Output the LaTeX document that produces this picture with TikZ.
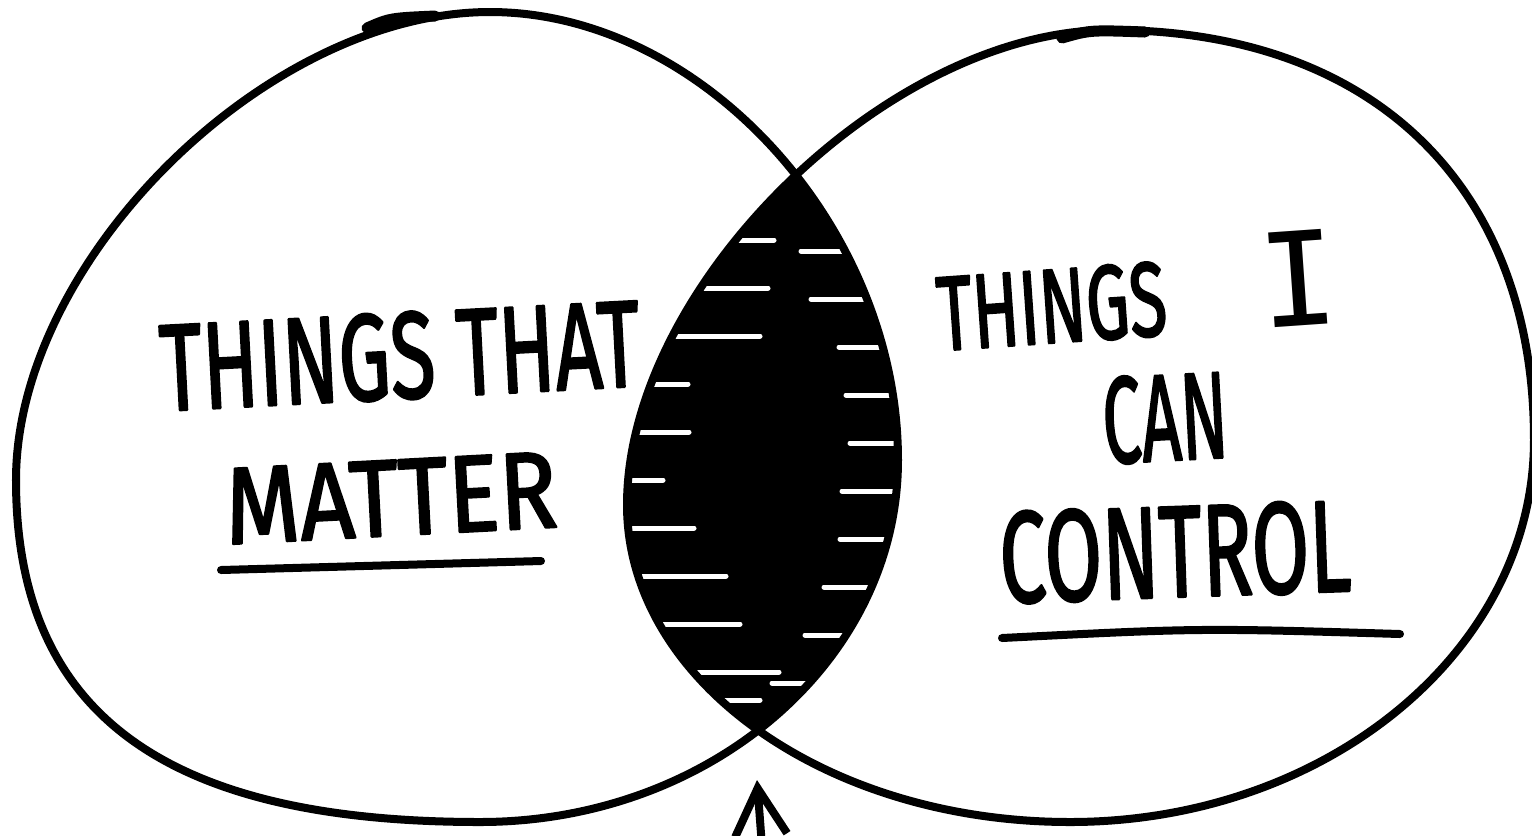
\documentclass[tikz,border=0pt]{standalone}
\usepackage{fontspec}
\newfontfamily\handfont{Fira Sans}[FakeBold=2.2]
\newfontfamily\barfont{DejaVu Sans Mono}
\usetikzlibrary{arrows.meta}

% the two hand drawn rings
\newcommand{\mattershape}{(490,12) .. controls (702,12) and (898,227) .. (898,460) .. controls (898,660) and (711,822) .. (480,822) .. controls (164,822) and (16,713) .. (16,480) .. controls (16,260) and (267,12) .. (490,12) -- cycle}
\newcommand{\controlshape}{(1110,30) .. controls (1373,30) and (1534,186) .. (1534,440) .. controls (1534,651) and (1326,822) .. (1070,822) .. controls (825,822) and (627,680) .. (627,505) .. controls (627,286) and (888,30) .. (1110,30) -- cycle}
\newcommand{\squeeze}[2]{\scalebox{#1}[1]{#2}}

\begin{document}
\begin{tikzpicture}[x=0.01cm,y=-0.01cm, line cap=round, line join=round,
  ink/.style={line width=0.08cm},
  hand/.style={font=\handfont, inner sep=0pt},
  gap/.style={white, line width=0.05cm}]
\useasboundingbox (0,0) rectangle (1532,835);

% scribbled overlap
\begin{scope}
  \clip \controlshape;
  \fill \mattershape;
  \foreach \y/\x in {240/774, 288/768, 336/760, 384/688, 432/689, 480/663, 528/694, 576/726, 624/740, 672/779, 700/760}
    \draw[gap] (600,\y) -- (\x,\y);
  \foreach \y/\x in {251/801, 299/811, 347/839, 395/846, 443/850, 491/842, 539/840, 587/824, 635/805, 683/772}
    \draw[gap] (\x,\y) -- (930,\y);
\end{scope}

\draw[ink] \mattershape;
\draw[ink] \controlshape;
\draw[ink, line width=0.11cm] (367,28) .. controls (390,18) .. (435,16);
\draw[ink, line width=0.11cm] (1062,38) .. controls (1090,30) .. (1145,32);

\node[hand, rotate=3] (matter1) at (400,356) {\squeeze{0.667}{\fontsize{35}{40}\selectfont THINGS THAT}};
\node[hand, rotate=3] (matter2) at (391,498) {\squeeze{0.876}{\fontsize{31}{36}\selectfont MATTER}};
\draw[ink] (221,570) -- (541,561);

\node[hand, rotate=4] (control1) at (1137,290) {\squeeze{0.65}{\fontsize{30}{36}\selectfont THINGS}\hspace{0.94cm}{\barfont\fontsize{37}{42}\selectfont I}};
\node[hand, rotate=3] (control2) at (1165,418) {\squeeze{0.56}{\fontsize{35}{40}\selectfont CAN}};
\node[hand, rotate=2] (control3) at (1175,552) {\squeeze{0.64}{\fontsize{37}{42}\selectfont CONTROL}};
\draw[ink] (1002,638) .. controls (1200,628) .. (1400,634);

% pointer to the overlap
\coordinate (tail) at (763,860);
\coordinate (tip) at (757,780);
\draw[ink, -{Straight Barb[length=0.47cm, width=0.52cm]}] (tail) -- (tip);
\end{tikzpicture}
\end{document}
